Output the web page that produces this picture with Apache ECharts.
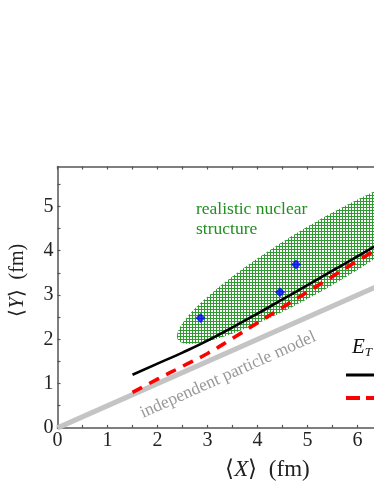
<!DOCTYPE html>
<html>
<head>
<meta charset="utf-8">
<script src="https://cdn.jsdelivr.net/npm/echarts@6/dist/echarts.min.js"></script>
<style>
  html, body { margin: 0; padding: 0; background: #fff; }
  #main { width: 374px; height: 484px; }
</style>
</head>
<body>
<div id="main"></div>
<script>
// tick positions / labels
const xTicks = [0, 0.5, 1, 1.5, 2, 2.5, 3, 3.5, 4, 4.5, 5, 5.5, 6, 6.5, 7, 7.5, 8]
const xLabels = [0, 1, 2, 3, 4, 5, 6, 7, 8]
const yTicks = [0, 0.5, 1, 1.5, 2, 2.5, 3, 3.5, 4, 4.5, 5, 5.5]
const yLabels = [0, 1, 2, 3, 4, 5]

// independent particle model (grey band)
const ipmLine = [[0, 0], [6.5, 3.25]]
// E_T curves
const etSolid = [[1.5, 1.2], [2, 1.45], [2.5, 1.7], [3, 1.97], [3.5, 2.27], [4, 2.58], [4.5, 2.9], [5, 3.22], [5.5, 3.55], [6, 3.87], [6.5, 4.2]]
const etDashed = [[1.5, 0.8], [2, 1.1], [2.5, 1.39], [3, 1.68], [3.5, 2.02], [4, 2.37], [4.5, 2.72], [5, 3.07], [5.5, 3.42], [6, 3.77], [6.5, 4.1]]
// realistic nuclear structure points
const nuclearPoints = [[2.86, 2.48], [4.45, 3.06], [4.77, 3.69]]
// hatched region: centre x, centre y, half diameter to the right tip (dx, dy), half vertical chord at centre (dx, dy)
const regionEllipse = [[5.29, 3.91, 2.9, 1.84, 0, 0.82]]

const serif = 'Liberation Serif'
const axisColor = '#555'

// small cross-hatch pattern for the region
const hatch = document.createElement('canvas')
hatch.width = 3
hatch.height = 3
const hctx = hatch.getContext('2d')
hctx.fillStyle = '#ffffff'
hctx.fillRect(0, 0, 3, 3)
hctx.fillStyle = '#2f9a2f'
hctx.fillRect(0, 0, 3, 1)
hctx.fillRect(0, 0, 1, 3)

var myChart = echarts.init(document.getElementById('main'))

var option = {
  animation: false,
  backgroundColor: '#fff',
  grid: { left: 57.5, top: 166.5, width: 400, height: 261.4, containLabel: false, outerBoundsMode: 'none' },
  xAxis: [
    {
      type: 'value',
      min: 0,
      max: 8,
      interval: 1,
      name: '{b|⟨}{i|X}{b|⟩}  (fm)',
      nameLocation: 'middle',
      nameGap: 31,
      nameTextStyle: {
        fontFamily: serif, fontSize: 23, color: '#222', padding: [0, 0, 0, 20],
        rich: {
          b: { fontFamily: serif, fontSize: 23, color: '#222' },
          i: { fontFamily: serif, fontSize: 23, fontStyle: 'italic', color: '#222' },
        },
      },
      axisLine: { show: true, lineStyle: { color: axisColor, width: 1.5 } },
      axisTick: { show: true, inside: true, length: 3, customValues: xTicks, lineStyle: { color: axisColor, width: 1.2 } },
      axisLabel: { customValues: xLabels, fontFamily: serif, fontSize: 20, color: '#222', margin: 3 },
      splitLine: { show: false },
    },
    {
      type: 'value',
      position: 'top',
      min: 0,
      max: 8,
      interval: 1,
      axisLine: { show: true, lineStyle: { color: axisColor, width: 1.5 } },
      axisTick: { show: true, inside: true, length: 3, customValues: xTicks, lineStyle: { color: axisColor, width: 1.2 } },
      axisLabel: { show: false },
      splitLine: { show: false },
    },
  ],
  yAxis: {
    type: 'value',
    min: 0,
    max: 5.9,
    interval: 1,
    name: '{b|⟨}{i|Y}{b|⟩}  (fm)',
    nameLocation: 'middle',
    nameGap: 30,
    nameTextStyle: {
      fontFamily: serif, fontSize: 20, color: '#222', padding: [0, 0, 0, 34],
      rich: {
        b: { fontFamily: serif, fontSize: 20, color: '#222' },
        i: { fontFamily: serif, fontSize: 20, fontStyle: 'italic', color: '#222' },
      },
    },
    axisLine: { show: true, lineStyle: { color: axisColor, width: 1.5 } },
    axisTick: { show: true, inside: true, length: 3, customValues: yTicks, lineStyle: { color: axisColor, width: 1.2 } },
    axisLabel: { customValues: yLabels, fontFamily: serif, fontSize: 20, color: '#222', margin: 4 },
    splitLine: { show: false },
  },
  series: [
    {
      type: 'custom',
      name: 'realistic nuclear structure',
      data: regionEllipse,
      renderItem: function (params, api) {
        const cx = api.value(0), cy = api.value(1)
        const ux = api.value(2), uy = api.value(3)
        const vx = api.value(4), vy = api.value(5)
        const pts = []
        for (let k = 0; k < 120; k++) {
          const t = (k / 120) * Math.PI * 2
          const c = Math.cos(t), s = Math.sin(t)
          pts.push(api.coord([cx + ux * c + vx * s, cy + uy * c + vy * s]))
        }
        return {
          type: 'polygon',
          shape: { points: pts },
          style: { fill: { image: hatch, repeat: 'repeat' }, stroke: null },
        }
      },
      z: 1,
    },
    {
      type: 'line',
      name: 'independent particle model',
      data: ipmLine,
      symbol: 'none',
      lineStyle: { color: '#c4c4c4', width: 5 },
      z: 2,
    },
    {
      type: 'line',
      name: 'E_T solid',
      data: etSolid,
      smooth: true,
      symbol: 'none',
      lineStyle: { color: '#000', width: 2.6 },
      z: 4,
    },
    {
      type: 'line',
      name: 'E_T dashed',
      data: etDashed,
      smooth: true,
      symbol: 'none',
      lineStyle: { color: '#ff0000', width: 3.6, type: [11, 8] },
      z: 3,
    },
    {
      type: 'scatter',
      name: 'points',
      data: nuclearPoints,
      symbol: 'diamond',
      symbolSize: 10,
      itemStyle: { color: '#0000ff' },
      z: 5,
    },
  ],
  graphic: [
    {
      type: 'text',
      left: 196,
      top: 199,
      style: {
        text: 'realistic nuclear\nstructure',
        font: '17.5px "Liberation Serif"',
        fill: '#1f8f1f',
        lineHeight: 20,
      },
      z: 10,
    },
    {
      type: 'text',
      x: 228,
      y: 375,
      rotation: 0.42,
      style: {
        text: 'independent particle model',
        font: '17.5px "Liberation Serif"',
        fill: '#999',
        align: 'center',
        verticalAlign: 'middle',
      },
      z: 10,
    },
    {
      type: 'text',
      left: 352,
      top: 337,
      style: {
        text: '{e|E}{t|T}',
        rich: {
          e: { font: 'italic 21px "Liberation Serif"', fill: '#111' },
          t: { font: 'italic 13px "Liberation Serif"', fill: '#111', padding: [10, 0, 0, 0] },
        },
      },
      z: 10,
    },
    {
      type: 'line',
      shape: { x1: 346, y1: 375, x2: 380, y2: 375 },
      style: { stroke: '#000', lineWidth: 3 },
      z: 10,
    },
    {
      type: 'line',
      shape: { x1: 346, y1: 398, x2: 385, y2: 398 },
      style: { stroke: '#ff0000', lineWidth: 4, lineDash: [14, 6] },
      z: 10,
    },
  ],
}

myChart.setOption(option)
</script>
</body>
</html>
